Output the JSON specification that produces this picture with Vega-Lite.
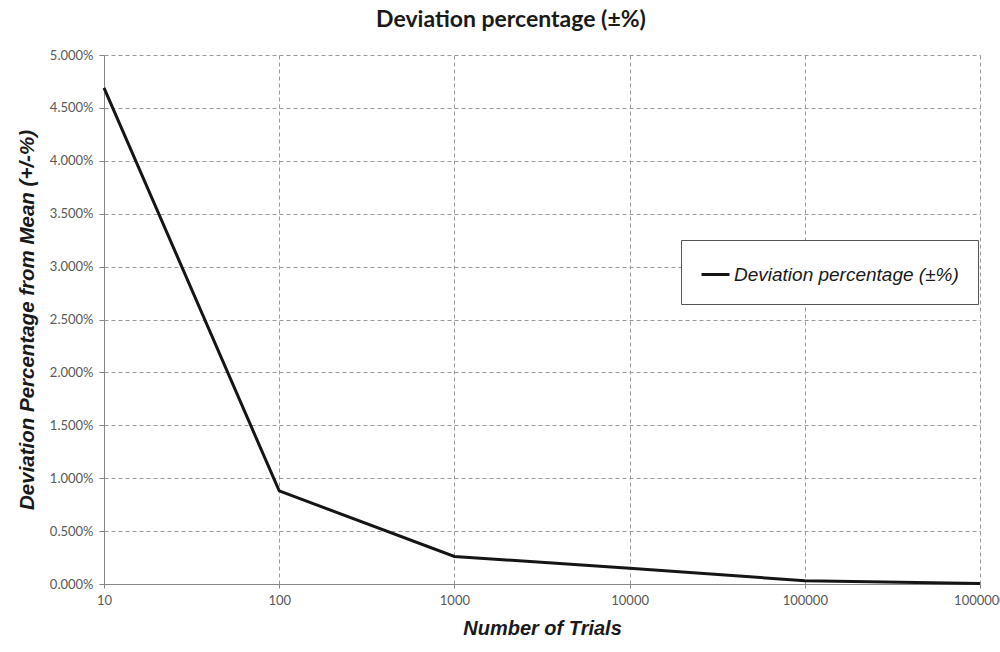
{
  "$schema": "https://vega.github.io/schema/vega-lite/v6.json",
  "width": 876,
  "height": 529,
  "autosize": {"type": "none"},
  "padding": {"left": 104, "top": 55, "right": 20, "bottom": 68},
  "background": "white",
  "title": {
    "text": "Deviation percentage (±%)",
    "font": "Lato",
    "fontSize": 23,
    "fontWeight": "bold",
    "color": "#1a1a1a",
    "anchor": "middle",
    "dx": -31,
    "offset": 17
  },
  "data": {
    "values": [
      {"trials": 10, "deviation": 0.0469, "series": "Deviation percentage (±%)"},
      {"trials": 100, "deviation": 0.0088, "series": "Deviation percentage (±%)"},
      {"trials": 1000, "deviation": 0.0026, "series": "Deviation percentage (±%)"},
      {"trials": 10000, "deviation": 0.0015, "series": "Deviation percentage (±%)"},
      {"trials": 100000, "deviation": 0.0003, "series": "Deviation percentage (±%)"},
      {"trials": 1000000, "deviation": 0.00005, "series": "Deviation percentage (±%)"}
    ]
  },
  "mark": {"type": "line", "strokeWidth": 3, "color": "#151515"},
  "encoding": {
    "x": {
      "field": "trials",
      "type": "quantitative",
      "scale": {"type": "log", "domain": [10, 1000000], "nice": false},
      "axis": {
        "title": "Number of Trials",
        "values": [10, 100, 1000, 10000, 100000, 1000000],
        "format": "d",
        "labelFlush": false,
        "labelOverlap": false,
        "labelFont": "Lato",
        "labelFontSize": 13,
        "labelColor": "#595959",
        "labelPadding": 6,
        "titleFont": "Liberation Sans",
        "titleFontSize": 20,
        "titleFontStyle": "italic",
        "titleFontWeight": "bold",
        "titleColor": "#1a1a1a",
        "titlePadding": 11,
        "domainColor": "#868686",
        "domainWidth": 1,
        "tickColor": "#868686",
        "tickSize": 4,
        "grid": true,
        "gridColor": "#9a9a9a",
        "gridDash": [4, 3],
        "gridWidth": 1
      }
    },
    "y": {
      "field": "deviation",
      "type": "quantitative",
      "scale": {"domain": [0, 0.05], "nice": false},
      "axis": {
        "title": "Deviation Percentage from Mean (+/-%)",
        "values": [0, 0.005, 0.01, 0.015, 0.02, 0.025, 0.03, 0.035, 0.04, 0.045, 0.05],
        "format": ".3%",
        "labelFont": "Lato",
        "labelFontSize": 13,
        "labelColor": "#595959",
        "labelPadding": 6,
        "titleFont": "Liberation Sans",
        "titleFontSize": 20.5,
        "titleFontStyle": "italic",
        "titleFontWeight": "bold",
        "titleColor": "#1a1a1a",
        "titlePadding": 12,
        "domainColor": "#868686",
        "domainWidth": 1,
        "tickColor": "#868686",
        "tickSize": 5,
        "grid": true,
        "gridColor": "#9a9a9a",
        "gridDash": [4, 3],
        "gridWidth": 1
      }
    },
    "color": {
      "field": "series",
      "type": "nominal",
      "scale": {"range": ["#151515"]},
      "legend": {
        "title": null,
        "orient": "none",
        "legendX": 577,
        "legendY": 185,
        "direction": "vertical",
        "strokeColor": "#555555",
        "fillColor": "white",
        "padding": 19,
        "symbolType": "stroke",
        "symbolSize": 784,
        "symbolStrokeWidth": 3,
        "symbolOffset": 0,
        "labelFont": "Liberation Sans",
        "labelFontSize": 19,
        "labelFontStyle": "italic",
        "labelColor": "#1a1a1a",
        "labelOffset": 3,
        "labelLimit": 400
      }
    }
  },
  "config": {
    "view": {"stroke": null}
  }
}
